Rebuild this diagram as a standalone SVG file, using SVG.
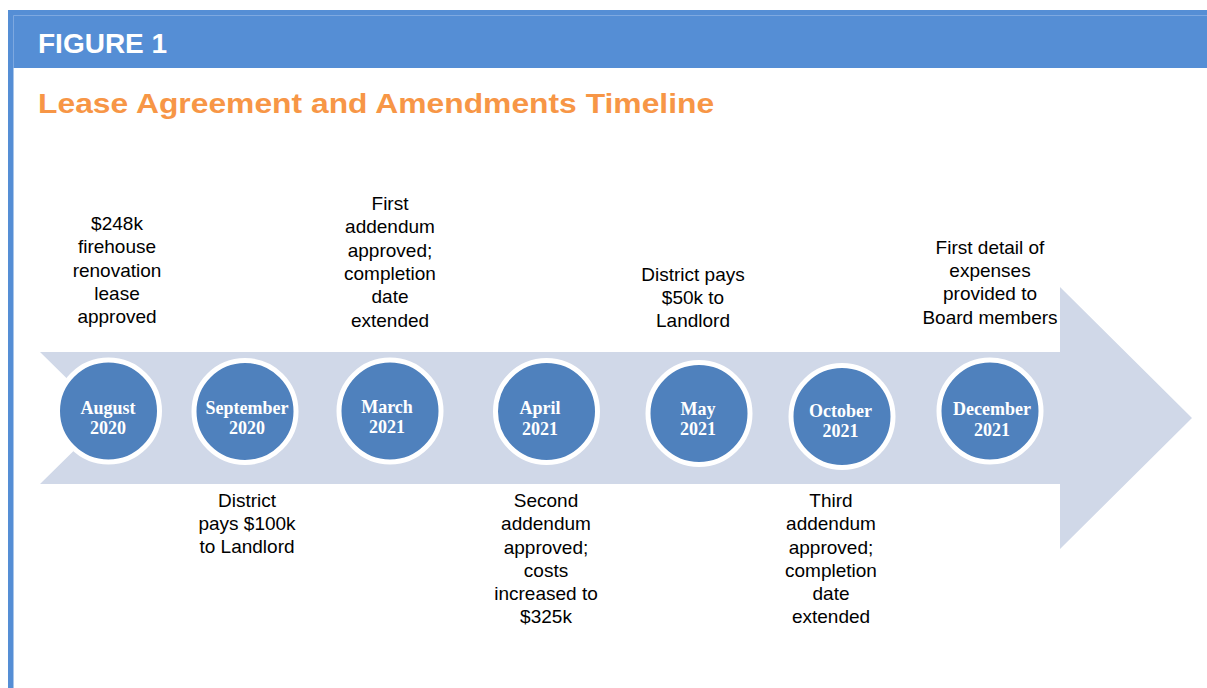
<svg xmlns="http://www.w3.org/2000/svg" width="1207" height="688" viewBox="0 0 1207 688">
  <style>
    .hdr { font-family: "Liberation Sans", Arial, sans-serif; font-weight: bold; fill: #ffffff; font-size: 28px; }
    .title { font-family: "Liberation Sans", Arial, sans-serif; font-weight: bold; fill: #F79646; font-size: 28px; }
    .lbl { font-family: "Liberation Sans", Arial, sans-serif; font-size: 19px; fill: #000000; text-anchor: middle; }
    .dot { fill: #4F81BD; stroke: #ffffff; stroke-width: 5; }
    .date { font-family: "Liberation Serif", "Times New Roman", serif; font-weight: bold; font-size: 18px; fill: #ffffff; text-anchor: middle; }
  </style>

  <!-- page frame -->
  <rect x="0" y="0" width="1207" height="688" fill="#ffffff"/>
  <rect x="8" y="10" width="1199" height="58" fill="#558ED5"/>
  <rect x="8" y="68" width="5.5" height="620" fill="#558ED5"/>
  <path d="M13.5 68 V15.5 H1207" fill="none" stroke="#7DA8E0" stroke-width="1"/>

  <text class="hdr" x="38" y="53">FIGURE 1</text>
  <text class="title" transform="translate(38,113) scale(1.137,1)" x="0" y="0">Lease Agreement and Amendments Timeline</text>

  <!-- timeline arrow -->
  <g id="connectors">
    <polygon points="40,352 1060,352 1060,287 1192,418 1060,549 1060,484 40,484 107,418" fill="#D0D8E8"/>
  </g>

  <g id="aug2020">
    <circle class="dot" cx="108.5" cy="411" r="51"/>
    <text class="date" x="108" y="414">August</text>
    <text class="date" x="108" y="434">2020</text>
    <text class="lbl" x="117" y="230">$248k</text>
    <text class="lbl" x="117" y="253">firehouse</text>
    <text class="lbl" x="117" y="276.5">renovation</text>
    <text class="lbl" x="117" y="300">lease</text>
    <text class="lbl" x="117" y="323">approved</text>
  </g>

  <g id="sep2020">
    <circle class="dot" cx="245" cy="411.5" r="51"/>
    <text class="date" x="247" y="414">September</text>
    <text class="date" x="247" y="434">2020</text>
    <text class="lbl" x="247" y="507">District</text>
    <text class="lbl" x="247" y="530">pays $100k</text>
    <text class="lbl" x="247" y="553">to Landlord</text>
  </g>

  <g id="mar2021">
    <circle class="dot" cx="390" cy="411" r="51"/>
    <text class="date" x="387" y="413">March</text>
    <text class="date" x="387" y="433">2021</text>
    <text class="lbl" x="390" y="210">First</text>
    <text class="lbl" x="390" y="233">addendum</text>
    <text class="lbl" x="390" y="257">approved;</text>
    <text class="lbl" x="390" y="280">completion</text>
    <text class="lbl" x="390" y="303">date</text>
    <text class="lbl" x="390" y="327">extended</text>
  </g>

  <g id="apr2021">
    <circle class="dot" cx="546.5" cy="411.5" r="51"/>
    <text class="date" x="540" y="414">April</text>
    <text class="date" x="540" y="435">2021</text>
    <text class="lbl" x="546" y="507">Second</text>
    <text class="lbl" x="546" y="530">addendum</text>
    <text class="lbl" x="546" y="553.5">approved;</text>
    <text class="lbl" x="546" y="577">costs</text>
    <text class="lbl" x="546" y="600">increased to</text>
    <text class="lbl" x="546" y="623">$325k</text>
  </g>

  <g id="may2021">
    <circle class="dot" cx="699" cy="413.5" r="51"/>
    <text class="date" x="698" y="415">May</text>
    <text class="date" x="698" y="435">2021</text>
    <text class="lbl" x="693" y="281">District pays</text>
    <text class="lbl" x="693" y="304">$50k to</text>
    <text class="lbl" x="693" y="327">Landlord</text>
  </g>

  <g id="oct2021">
    <circle class="dot" cx="842" cy="416.5" r="51"/>
    <text class="date" x="840.5" y="417">October</text>
    <text class="date" x="840.5" y="437">2021</text>
    <text class="lbl" x="831" y="507">Third</text>
    <text class="lbl" x="831" y="530">addendum</text>
    <text class="lbl" x="831" y="553.5">approved;</text>
    <text class="lbl" x="831" y="577">completion</text>
    <text class="lbl" x="831" y="600">date</text>
    <text class="lbl" x="831" y="623">extended</text>
  </g>

  <g id="dec2021">
    <circle class="dot" cx="990" cy="411" r="51"/>
    <text class="date" x="992" y="415">December</text>
    <text class="date" x="992" y="436">2021</text>
    <text class="lbl" x="990" y="254">First detail of</text>
    <text class="lbl" x="990" y="277">expenses</text>
    <text class="lbl" x="990" y="300">provided to</text>
    <text class="lbl" x="990" y="323.5">Board members</text>
  </g>
</svg>
